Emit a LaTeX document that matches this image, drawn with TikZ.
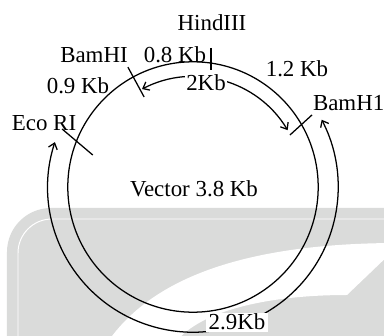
\documentclass[tikz,border=0pt]{standalone}
\usepackage{fontspec}
\setmainfont{Liberation Serif}
\usepackage{tikz}
\usetikzlibrary{arrows.meta}
\definecolor{wmgray}{RGB}{218,219,218}

\tikzset{
  lbl/.style={font=\fontsize{16.3}{18}\selectfont, inner sep=1pt},
  cut/.style={line width=0.9pt},
}

\begin{document}
\begin{tikzpicture}[line width=0.9pt, >={Straight Barb[length=4pt,width=6.5pt]}]

\useasboundingbox (-4.825,-3.725) rectangle (4.775,4.675);
\clip (-4.825,-3.725) rectangle (4.775,4.675);

% watermark in the background
\fill[wmgray, rounded corners=1.1cm] (-4.65,-5.0) rectangle (6.0,-0.525);
\draw[white, line width=0.7pt, rounded corners=0.85cm] (-4.375,-5.0) rectangle (6.0,-0.8);
\fill[white] (-2.15,-3.9) .. controls (-1.075,-2.325) and (1.175,-1.425) .. (5.0,-1.4)
  -- (5.0,-1.6) -- (3.85,-2.7) .. controls (1.925,-2.7) and (0.175,-3.075) .. (-0.45,-3.9) -- cycle;

\pgfmathsetmacro{\rin}{3.13}
\pgfmathsetmacro{\rout}{3.63}
\pgfmathsetmacro{\rarr}{2.76}

% Vector ring
\draw (0,0) circle (\rin);
\node[lbl] (vec) at (0.025,-0.05) {Vector 3.8 Kb};

% restriction sites
\draw[cut] (0.45,3.475) -- (0.45,2.925);
\draw[cut] (118.5:3.41) -- (118.5:2.56);
\draw[cut] (31.2:3.48) -- (28.2:2.75);
\draw[cut] (156.1:3.58) -- (162.3:2.63);

\node[lbl] (hind) at (0.475,4.1) {HindIII};
\node[lbl] (bamL) at (-2.475,3.3) {BamHI};
\node[lbl] (kb08) at (-0.45,3.3) {0.8 Kb};
\node[lbl] (kb09) at (-2.875,2.525) {0.9 Kb};
\node[lbl] (kb12) at (2.6,2.95) {1.2 Kb};
\node[lbl, anchor=west] (bamR) at (2.95,2.1) {BamH1};
\node[lbl] (eco) at (-3.725,1.6) {Eco RI};

% fragment arcs
\draw[<->] (117.5:\rarr) arc (117.5:31:\rarr);
\node[lbl, fill=white] (kb2) at (0.325,2.6) {2Kb};

\draw[<->] (162:\rout) arc (162:387.6:\rout);
\node[lbl, fill=white, inner xsep=2pt, inner ysep=1pt] (kb29) at (1.1,-3.38) {2.9Kb};

\end{tikzpicture}
\end{document}
